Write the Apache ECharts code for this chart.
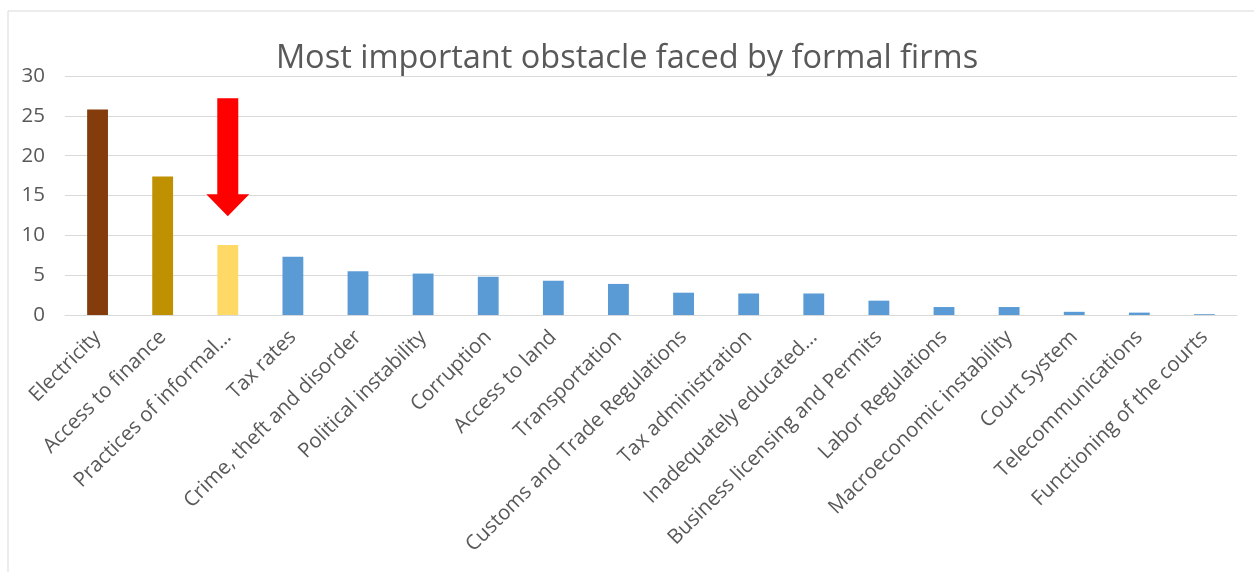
<!DOCTYPE html>
<html>
<head>
<meta charset="utf-8">
<script src="https://cdn.jsdelivr.net/npm/echarts@6/dist/echarts.min.js"></script>
<style>
html,body{margin:0;padding:0;background:#fff;}
#chart{width:1254px;height:572px;}
</style>
</head>
<body>
<div id="chart"></div>
<script>
const categories = ["Electricity","Access to finance","Practices of informal\u2026","Tax rates","Crime, theft and disorder","Political instability","Corruption","Access to land","Transportation","Customs and Trade Regulations","Tax administration","Inadequately educated\u2026","Business licensing and Permits","Labor Regulations","Macroeconomic instability","Court System","Telecommunications","Functioning of the courts"];
const values = [25.8,17.4,8.8,7.3,5.5,5.2,4.8,4.3,3.9,2.8,2.7,2.7,1.8,1.0,1.0,0.4,0.3,0.1];
const barColors = ["#843C0C","#BF9000","#FFD966","#5B9BD5","#5B9BD5","#5B9BD5","#5B9BD5","#5B9BD5","#5B9BD5","#5B9BD5","#5B9BD5","#5B9BD5","#5B9BD5","#5B9BD5","#5B9BD5","#5B9BD5","#5B9BD5","#5B9BD5"];
const yTicks = [0,5,10,15,20,25,30];
const titleText = "Most important obstacle faced by formal firms";
// arrow annotation pointing at "Practices of informal…" (category, value at arrow centre)
const arrowPoint = [categories[2], 19.8];

const chart = echarts.init(document.getElementById('chart'), null, {renderer:'canvas'});
const font = "'Open Sans', sans-serif";
chart.setOption({
  animation:false,
  backgroundColor:'#fff',
  graphic:[{type:'rect',shape:{x:8,y:11,width:1300,height:620},style:{fill:'none',stroke:'#d9d9d9',lineWidth:1},silent:true,z:-1}],
  title:{text:titleText,left:'center',top:37,textStyle:{fontFamily:font,fontSize:32.5,fontWeight:'normal',color:'#595959'}},
  grid:{left:65,right:17,top:76,bottom:257,containLabel:false},
  xAxis:{type:'category',data:categories,
    axisLine:{lineStyle:{color:'#d9d9d9',width:1}},axisTick:{show:false},
    axisLabel:{interval:0,rotate:45,fontFamily:font,fontSize:20.5,color:'#595959',margin:19}},
  yAxis:{type:'value',min:yTicks[0],max:yTicks[yTicks.length-1],interval:5,
    axisLine:{show:false},axisTick:{show:false},
    splitLine:{lineStyle:{color:'#d9d9d9',width:1}},
    axisLabel:{fontFamily:font,fontSize:20.5,color:'#595959',margin:20}},
  series:[
    {type:'bar',data:values.map((v,i)=>({value:v,itemStyle:{color:barColors[i]}})),barWidth:'32%'},
    {type:'scatter',data:[arrowPoint],symbol:'path://M11,0 L32,0 L32,96 L43,96 L21.5,118 L0,96 L11,96 Z',
     symbolSize:[43,118],itemStyle:{color:'#FF0000',opacity:1},silent:true,z:5}
  ]
});
</script>
</body>
</html>
